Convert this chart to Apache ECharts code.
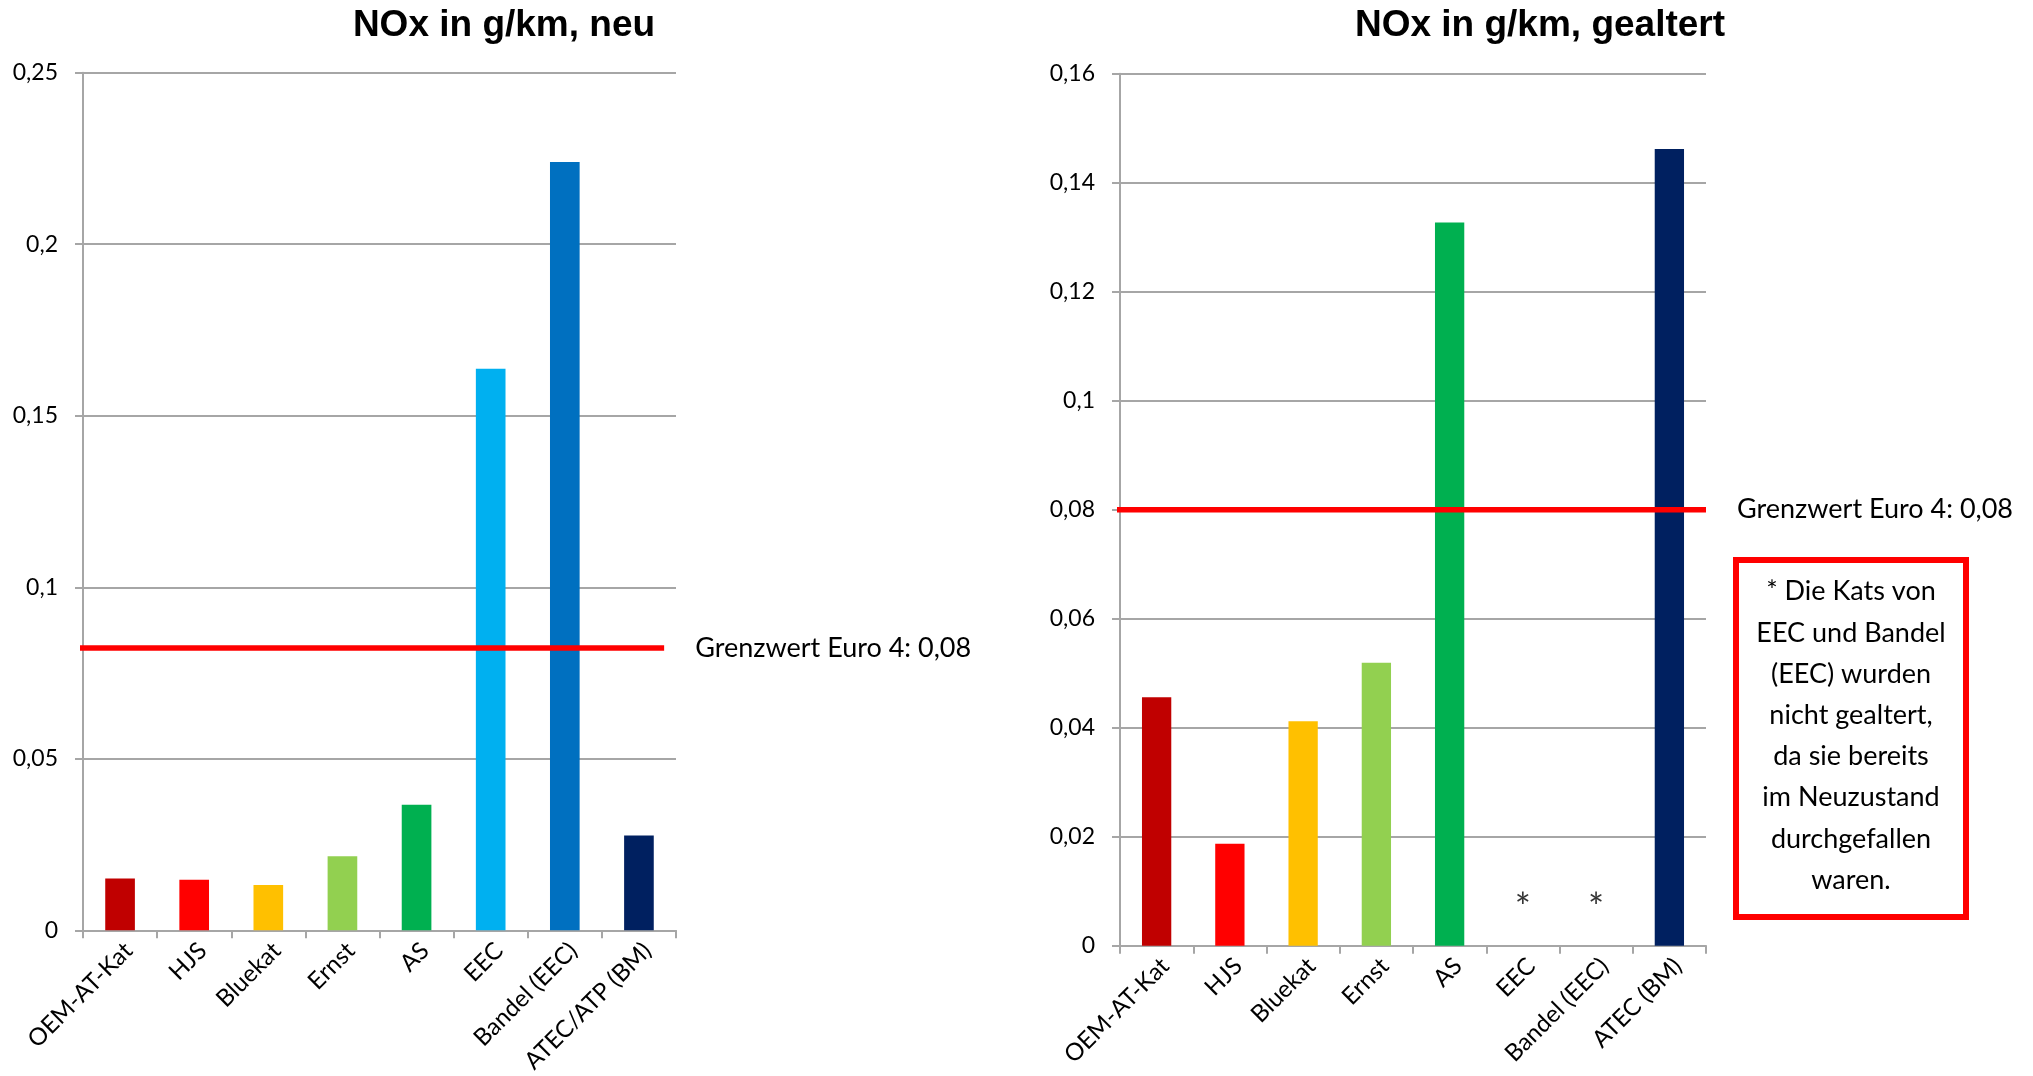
<!DOCTYPE html>
<html>
<head>
<meta charset="utf-8">
<script src="https://cdn.jsdelivr.net/npm/echarts@6/dist/echarts.min.js"></script>
<style>
html,body{margin:0;padding:0;background:#fff;}
#c{width:2033px;height:1076px;}
</style>
</head>
<body>
<div id="c"></div>
<script>
// ---- data ----
const titleNeu = 'NOx in g/km, neu';
const titleAlt = 'NOx in g/km, gealtert';
const categoriesNeu = ['OEM-AT-Kat', 'HJS', 'Bluekat', 'Ernst', 'AS', 'EEC', 'Bandel (EEC)', 'ATEC/ATP (BM)'];
const valuesNeu = [0.0151, 0.0147, 0.0132, 0.0216, 0.0366, 0.1637, 0.2240, 0.0276];
const categoriesAlt = ['OEM-AT-Kat', 'HJS', 'Bluekat', 'Ernst', 'AS', 'EEC', 'Bandel (EEC)', 'ATEC (BM)'];
const valuesAlt = [0.0456, 0.0187, 0.0412, 0.0519, 0.1327, null, null, 0.1462];
const barColors = ['#C00000', '#FF0000', '#FFC000', '#92D050', '#00B050', '#00B0F0', '#0070C0', '#002060'];
const yMaxNeu = 0.25, yStepNeu = 0.05;
const yMaxAlt = 0.16, yStepAlt = 0.02;
const limitNeu = 0.0823;          // red line as drawn in the "neu" chart
const limitAlt = 0.08;            // red line as drawn in the "gealtert" chart
const limitSpanNeu = [-0.17, 7.84]; // in category units
const limitSpanAlt = [-0.12, 8];
const limitLabel = 'Grenzwert Euro 4: 0,08';
const notAgedCats = ['EEC', 'Bandel (EEC)'];
const asteriskValue = 0.0067;
const noteLines = ['* Die Kats von', 'EEC und Bandel', '(EEC) wurden', 'nicht gealtert,', 'da sie bereits', 'im Neuzustand', 'durchgefallen', 'waren.'];

// ---- styles ----
const FONT = 'Lato';
const GRAY = '#A6A6A6';
const fmt = v => String(v).replace('.', ',');

function catAxis(cats, gridIndex) {
  return {
    type: 'category', gridIndex, data: cats, boundaryGap: true,
    axisLine: { show: true, lineStyle: { color: GRAY, width: 2 } },
    axisTick: { show: true, length: 8, lineStyle: { color: GRAY, width: 2 }, alignWithLabel: false },
    axisLabel: { interval: 0, rotate: 45, margin: 8, verticalAlign: 'top',
      fontFamily: FONT, fontSize: 24, color: '#000' },
    splitLine: { show: false }
  };
}
function valAxis(max, step, gridIndex) {
  return {
    type: 'value', gridIndex, min: 0, max, interval: step,
    axisLine: { show: true, lineStyle: { color: GRAY, width: 2 } },
    axisTick: { show: true, length: 8, lineStyle: { color: GRAY, width: 2 } },
    axisLabel: { margin: 25, fontFamily: FONT, fontSize: 23, color: '#000', formatter: fmt },
    splitLine: { show: true, lineStyle: { color: GRAY, width: 2 } }
  };
}
function hiddenX(gridIndex) {
  return { type: 'value', gridIndex, min: 0, max: 8, show: false };
}
function barData(vals) {
  return vals.map((v, i) => ({ value: v, itemStyle: { color: barColors[i] } }));
}
function limitSeries(xAxisIndex, yAxisIndex, span, value) {
  return {
    type: 'line', xAxisIndex, yAxisIndex, clip: false, symbol: 'none', z: 5,
    lineStyle: { color: '#FF0000', width: 5.5 },
    data: [[span[0], value], [span[1], value]],
    endLabel: { show: true, distance: 31, formatter: limitLabel,
      fontFamily: FONT, fontSize: 27, color: '#000' },
    silent: true
  };
}

const chart = echarts.init(document.getElementById('c'), null, { renderer: 'canvas' });
chart.setOption({
  animation: false,
  backgroundColor: '#fff',
  title: [
    { text: titleNeu, left: 504, top: 7, textAlign: 'center', padding: 0,
      textStyle: { fontFamily: 'Liberation Sans', fontWeight: 'bold', fontSize: 37, color: '#000' } },
    { text: titleAlt, left: 1540, top: 7, textAlign: 'center', padding: 0,
      textStyle: { fontFamily: 'Liberation Sans', fontWeight: 'bold', fontSize: 37, color: '#000' } }
  ],
  grid: [
    { left: 83, top: 72.7, width: 593, height: 857.6 },
    { left: 1120, top: 73.7, width: 586, height: 872 }
  ],
  xAxis: [catAxis(categoriesNeu, 0), catAxis(categoriesAlt, 1), hiddenX(0), hiddenX(1)],
  yAxis: [valAxis(yMaxNeu, yStepNeu, 0), valAxis(yMaxAlt, yStepAlt, 1)],
  series: [
    { type: 'bar', xAxisIndex: 0, yAxisIndex: 0, data: barData(valuesNeu), barCategoryGap: '60%' },
    { type: 'bar', xAxisIndex: 1, yAxisIndex: 1, data: barData(valuesAlt), barCategoryGap: '60%' },
    {
      type: 'scatter', xAxisIndex: 1, yAxisIndex: 1, symbolSize: 1,
      itemStyle: { color: 'rgba(0,0,0,0)' },
      data: notAgedCats.map(c => [c, asteriskValue]),
      label: { show: true, position: 'inside', formatter: '*', fontFamily: FONT, fontSize: 38, color: '#000' }
    },
    limitSeries(2, 0, limitSpanNeu, limitNeu),
    limitSeries(3, 1, limitSpanAlt, limitAlt)
  ],
  graphic: [
    { type: 'rect', shape: { x: 1736, y: 560, width: 230, height: 357 },
      style: { fill: '#fff', stroke: '#FF0000', lineWidth: 6 } },
    { type: 'text', x: 1851, y: 571,
      style: { text: noteLines.join('\n'), align: 'center', verticalAlign: 'top',
        lineHeight: 41.2, fontFamily: FONT, fontSize: 27, fill: '#000' } }
  ]
});
</script>
</body>
</html>
